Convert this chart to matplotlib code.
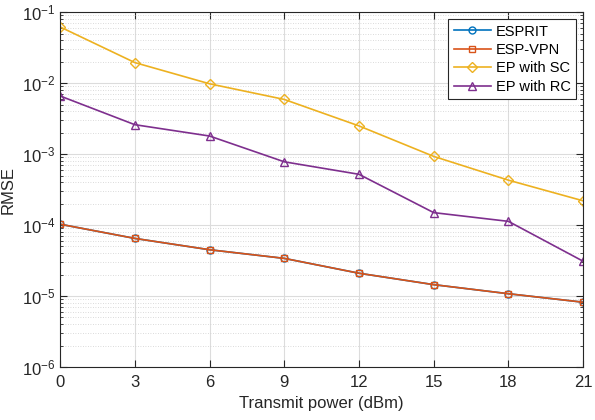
import matplotlib
matplotlib.use("Agg")
import matplotlib.pyplot as plt
from matplotlib.ticker import LogLocator, NullFormatter

plt.rcParams['font.family'] = ['Liberation Sans', 'DejaVu Sans']
plt.rcParams['mathtext.fontset'] = 'custom'
plt.rcParams['mathtext.rm'] = 'Liberation Sans'

power = [0, 3, 6, 9, 12, 15, 18, 21]
esprit = [1.03e-4, 6.5e-5, 4.5e-5, 3.4e-5, 2.1e-5, 1.45e-5, 1.08e-5, 8.2e-6]
esp_vpn = [1.03e-4, 6.5e-5, 4.5e-5, 3.4e-5, 2.1e-5, 1.45e-5, 1.08e-5, 8.2e-6]
ep_sc = [0.062, 0.0195, 0.0098, 0.0059, 0.0025, 0.00093, 0.00043, 0.00022]
ep_rc = [0.0066, 0.0026, 0.0018, 0.00078, 0.00052, 0.00015, 0.000113, 0.000031]
labels = ['ESPRIT', 'ESP-VPN', 'EP with SC', 'EP with RC']

fig = plt.figure(figsize=(5.95, 4.2), dpi=100)
ax = fig.add_axes([0.101, 0.126, 0.879, 0.845])

ax.plot(power, esprit, color='#0072BD', marker='o', ms=5, mfc='none', lw=1.2, label=labels[0])
ax.plot(power, esp_vpn, color='#D95319', marker='s', ms=4.5, mfc='none', lw=1.2, label=labels[1])
ax.plot(power, ep_sc, color='#EDB120', marker='D', ms=5, mfc='none', lw=1.2, label=labels[2])
ax.plot(power, ep_rc, color='#7E2F8E', marker='^', ms=6, mfc='none', lw=1.2, label=labels[3])

ax.set_yscale('log')
ax.set_xlim(0, 21)
ax.set_ylim(1e-6, 1e-1)
ax.set_xticks(power)
ax.yaxis.set_major_locator(LogLocator(base=10, numticks=10))
ax.yaxis.set_minor_locator(LogLocator(base=10, subs=range(2, 10), numticks=20))
ax.yaxis.set_minor_formatter(NullFormatter())

ax.grid(True, which='major', color='#dcdcdc', lw=0.8, ls='-')
ax.grid(True, which='minor', axis='y', color='#cfcfcf', lw=0.6, ls=(0, (1, 2)))
ax.set_axisbelow(True)

ax.tick_params(which='both', direction='in', top=True, right=True, labelsize=12, colors='#262626')
ax.tick_params(which='major', length=5)
ax.tick_params(axis='x', which='major', pad=6)
ax.tick_params(which='minor', length=2.5)
for s in ax.spines.values():
    s.set_color('#262626')
    s.set_linewidth(0.8)

ax.set_xlabel('Transmit power (dBm)', fontsize=12, color='#262626', labelpad=4)
ax.set_ylabel('RMSE', fontsize=12, color='#262626', labelpad=4)

leg = ax.legend(loc='upper right', fontsize=10.5, fancybox=False, framealpha=1,
                edgecolor='#262626', handlelength=2.6, borderpad=0.35, labelspacing=0.3,
                handletextpad=0.3, borderaxespad=0.5)
leg.get_frame().set_linewidth(0.8)

fig.savefig('out.png', dpi=100)
